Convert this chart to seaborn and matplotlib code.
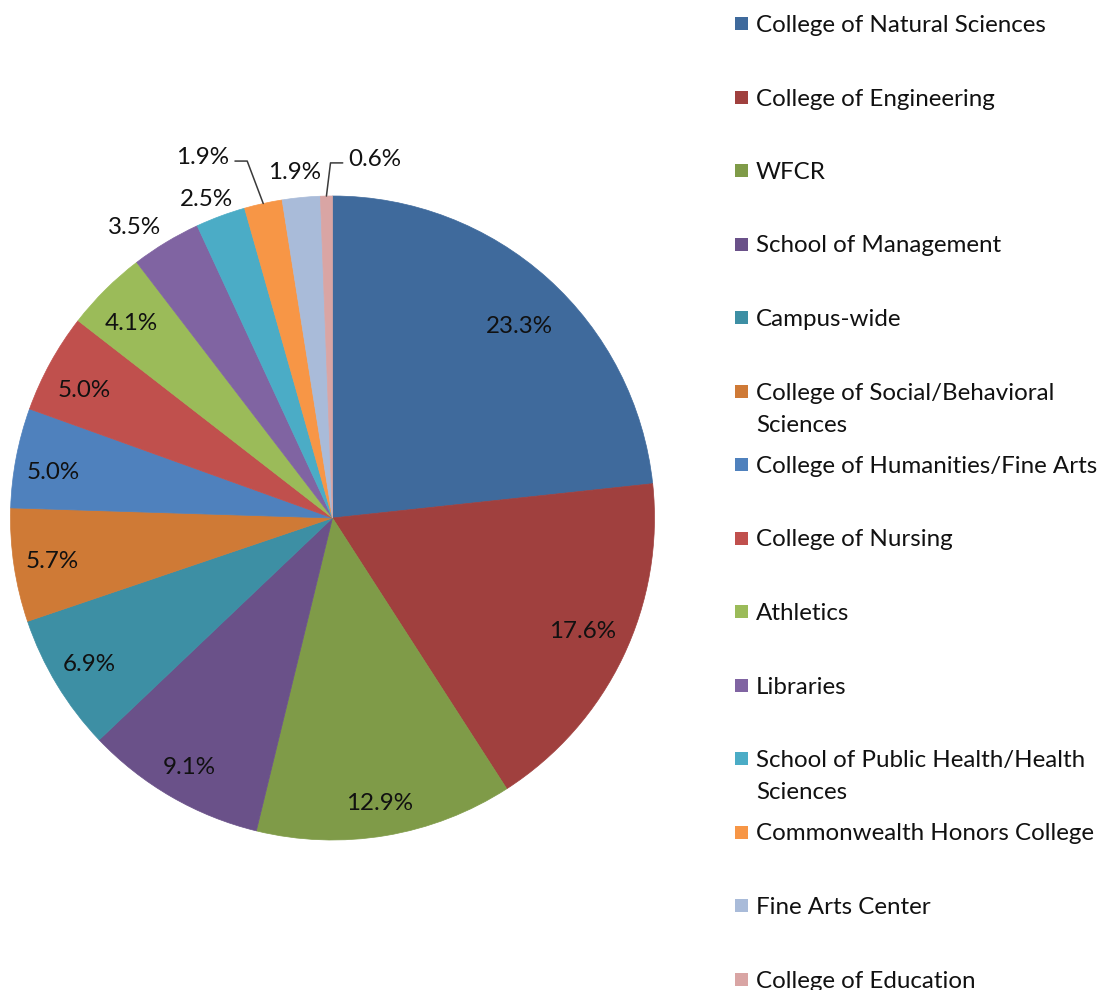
import numpy as np
import matplotlib.pyplot as plt
import seaborn as sns

# data
units = ["College of Natural Sciences", "College of Engineering", "WFCR",
         "School of Management", "Campus-wide",
         "College of Social/Behavioral\nSciences",
         "College of Humanities/Fine Arts", "College of Nursing", "Athletics",
         "Libraries", "School of Public Health/Health\nSciences",
         "Commonwealth Honors College", "Fine Arts Center",
         "College of Education"]
shares = [23.3, 17.6, 12.9, 9.1, 6.9, 5.7, 5.0, 5.0, 4.1, 3.5, 2.5, 1.9, 1.9, 0.6]

# excel 2010 style colours
colors = ["#3F6A9C", "#A0403E", "#7F9B48", "#6A5189", "#3D8FA4", "#CF7A36",
          "#4F81BD", "#C0504D", "#9BBB59", "#8064A2", "#4BACC6", "#F79646",
          "#A9BBD9", "#D9A5A4"]

# label placement (radius in pie units, angle nudge in degrees)
label_r = [0.835, 0.852, 0.894, 0.89, 0.879, 0.881, 0.88, 0.87, 0.872,
           1.097, 1.07, 1.194, 1.084, 1.126]
label_nudge = [-2.2, 1.5, -0.2, 0, -0.3, 0, 1.1, 1.2, 0.9, 2.9, 1.1, 7.3, 0.6, -7.8]
leader = [False] * 11 + [True, False, True]

sns.set_theme(style="white")
plt.rcParams['font.family'] = ['Lato', 'DejaVu Sans']
txt_color = "#111111"
fs = 17.4

W, H = 1106, 990
fig = plt.figure(figsize=(W / 100, H / 100), dpi=100)
cx, cy, R = 332.5, 518, 322
ax = fig.add_axes([(cx - R) / W, (H - cy - R) / H, 2 * R / W, 2 * R / H])

pal = sns.color_palette(colors)
wedges, _ = ax.pie(shares, colors=pal, startangle=90, counterclock=False,
                   radius=1, wedgeprops=dict(linewidth=0))
for w in wedges:
    w.set_edgecolor(w.get_facecolor())
    w.set_linewidth(0.5)
ax.set_xlim(-1, 1)
ax.set_ylim(-1, 1)
ax.set_aspect("equal")
ax.axis("off")

for w, val, r, nud, ld in zip(wedges, shares, label_r, label_nudge, leader):
    mid = np.deg2rad((w.theta1 + w.theta2) / 2)
    ang = mid + np.deg2rad(nud)
    tx, ty = r * np.cos(ang), r * np.sin(ang)
    ax.annotate(f"{val:.1f}%", (tx, ty), xytext=(0, -6), textcoords="offset points",
                ha="center", va="baseline", fontsize=fs, color=txt_color,
                annotation_clip=False)
    if ld:
        side = 1 if np.cos(mid) > tx else -1
        ly = ty - 0.0155
        xs = [tx + side * 0.1, tx + side * 0.138, np.cos(mid)]
        ys = [ly, ly, np.sin(mid)]
        ax.plot(xs, ys, color="#3a3a3a", lw=1.1, clip_on=False)

# legend drawn as evenly spaced slots like the excel legend
top, step = 23.5, 73.5
for i, (lab, c) in enumerate(zip(units, pal)):
    y = top + i * step
    fig.patches.append(plt.Rectangle((735 / W, (H - y - 6.5) / H), 13 / W, 13 / H,
                                     transform=fig.transFigure, facecolor=c,
                                     edgecolor="none"))
    for k, line in enumerate(lab.split("\n")):
        fig.text(756 / W, (H - y - 8.5 - 32 * k) / H, line, fontsize=fs,
                 color=txt_color, va="baseline", ha="left")

fig.savefig("out.png", dpi=100, facecolor="white")
